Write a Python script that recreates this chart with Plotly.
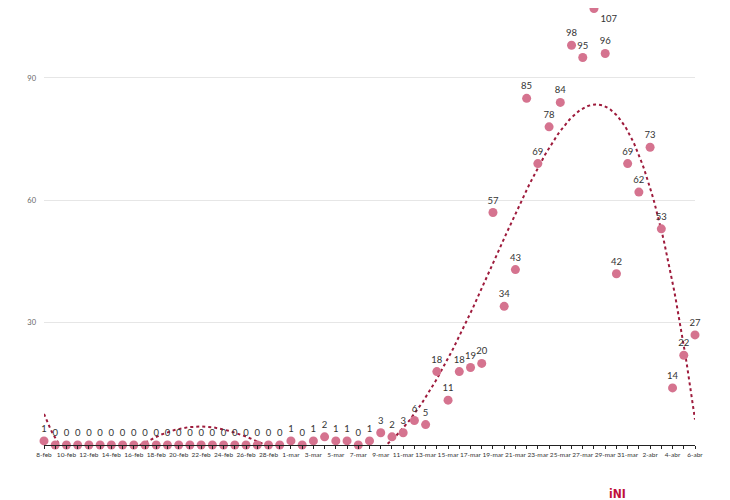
import numpy as np
import plotly.graph_objects as go

dates = ["8-feb", "9-feb", "10-feb", "11-feb", "12-feb", "13-feb", "14-feb", "15-feb",
         "16-feb", "17-feb", "18-feb", "19-feb", "20-feb", "21-feb", "22-feb", "23-feb",
         "24-feb", "25-feb", "26-feb", "27-feb", "28-feb", "29-feb",
         "1-mar", "2-mar", "3-mar", "4-mar", "5-mar", "6-mar", "7-mar", "8-mar", "9-mar",
         "10-mar", "11-mar", "12-mar", "13-mar", "14-mar", "15-mar", "16-mar", "17-mar",
         "18-mar", "19-mar", "20-mar", "21-mar", "22-mar", "23-mar", "24-mar", "25-mar",
         "26-mar", "27-mar", "28-mar", "29-mar", "30-mar", "31-mar",
         "1-abr", "2-abr", "3-abr", "4-abr", "5-abr", "6-abr"]

values = [1, 0, 0, 0, 0, 0, 0, 0, 0, 0, 0, 0, 0, 0, 0, 0, 0, 0, 0, 0, 0, 0,
          1, 0, 1, 2, 1, 1, 0, 1, 3, 2, 3, 6, 5, 18, 11, 18, 19, 20,
          57, 34, 43, 85, 69, 78, 84, 98, 95, 107, 96, 42, 69, 62, 73, 53, 14, 22, 27]

y_ticks = [30, 60, 90]

x = np.arange(len(dates))
coef = np.polyfit(x, values, 6)
xs = np.linspace(0, len(dates) - 1, 400)
trend = np.polyval(coef, xs)

# page is offset by 8px (body margin), so figure is 722x492
W, H = 722, 492
PLOT_L, PLOT_R, PLOT_T, PLOT_B = 36, 687, 0, 437.5
PW, PH = PLOT_R - PLOT_L, PLOT_B - PLOT_T
y_top = PLOT_B / (122.5 / 30)

vmax = max(values)
text_pos = ["bottom right" if v == vmax else "top center" for v in values]

fig = go.Figure()
fig.add_trace(go.Scatter(
    x=xs, y=trend, mode="lines",
    line=dict(color="#9e1b3c", width=2, dash="dot"),
    hoverinfo="skip", showlegend=False,
))
fig.add_trace(go.Scatter(
    x=x, y=values, mode="markers+text",
    marker=dict(color="#d5738f", size=9),
    text=[str(v) for v in values], textposition=text_pos,
    textfont=dict(family="Lato, sans-serif", size=9.5, color="#333333"),
    cliponaxis=False, showlegend=False,
))

fig.add_annotation(
    xref="paper", yref="paper",
    x=(609.5 - PLOT_L) / PW, y=(PLOT_B - 487) / PH,
    xanchor="center", yanchor="middle",
    text="<b>iNI</b>", showarrow=False,
    font=dict(family="DejaVu Sans Condensed, DejaVu Sans", size=12, color="#c0103a"),
)

fig.update_layout(
    width=W, height=H,
    margin=dict(l=PLOT_L, r=W - PLOT_R, t=PLOT_T, b=H - PLOT_B, autoexpand=False),
    paper_bgcolor="white", plot_bgcolor="white",
    font=dict(family="Lato, sans-serif", color="#333333"),
    xaxis=dict(
        range=[0, len(dates) - 1],
        tickvals=list(x[::2]), ticktext=dates[::2],
        tickangle=0, automargin=False,
        tickfont=dict(size=6.5, color="#333333"),
        showgrid=False, zeroline=False,
        showline=True, linecolor="#222222", linewidth=1.2,
        ticks="outside", ticklen=3, tickcolor="#222222",
        minor=dict(dtick=1, ticks="outside", ticklen=3, tickcolor="#222222"),
        layer="above traces",
    ),
    yaxis=dict(
        range=[0, y_top], automargin=False,
        tickvals=y_ticks,
        tickfont=dict(size=7.5, color="#666666"),
        showgrid=True, gridcolor="#e6e6e6", gridwidth=1,
        zeroline=False, showline=False, ticks="", ticklabelstandoff=7,
    ),
)

fig.write_html("out.html")
